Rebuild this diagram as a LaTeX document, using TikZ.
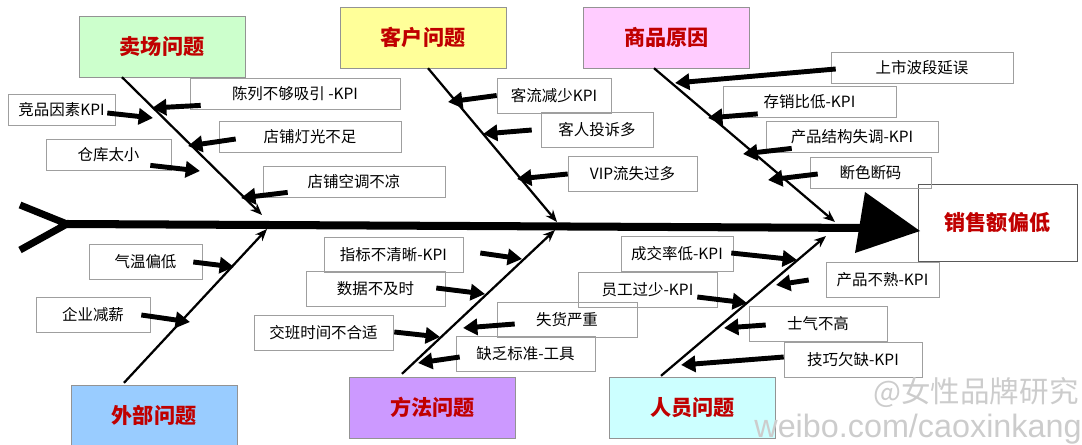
\documentclass[tikz,border=0pt]{standalone}
\usepackage{fontspec}
\setmainfont{Noto Sans CJK SC}
\newfontfamily\urlfont{Liberation Sans}
\usetikzlibrary{arrows.meta}
\definecolor{fishred}{HTML}{C00000}
\definecolor{shopgreen}{HTML}{CCFFCC}
\definecolor{custyellow}{HTML}{FFFF99}
\definecolor{goodspink}{HTML}{FFCCFF}
\definecolor{outerblue}{HTML}{99CCFF}
\definecolor{methodpurple}{HTML}{CC99FF}
\definecolor{staffcyan}{HTML}{CCFFFF}
\tikzset{group/.style={draw=gray!85, minimum width=4.15cm, minimum height=1.52cm, inner sep=0pt, font=\fontsize{15}{18}\selectfont\bfseries, text=fishred}}
\tikzset{cause/.style={draw=gray!75, minimum height=0.78cm, inner sep=0pt, font=\fontsize{11}{13}\selectfont}}
\tikzset{tall/.style={minimum height=0.87cm}}
\tikzset{bone/.style={line width=1.6pt, -{Stealth[length=3mm,width=2.4mm]}}}
\tikzset{push/.style={line width=3.5pt, -{Triangle[length=3.6mm,width=4mm]}}}
\tikzset{spine/.style={line width=5.7pt}}
\tikzset{tail/.style={line width=5pt, line join=miter}}
\tikzset{watermark/.style={text=gray!40, inner sep=0pt}}

\begin{document}
\begin{tikzpicture}[x=0.025cm, y=-0.025cm]
\useasboundingbox (0,0) rectangle (1082,445);

\node[group, fill=shopgreen] (maichang) at (162,46.5) {卖场问题};
\node[group, fill=custyellow] (kehu) at (423,37.5) {客户问题};
\node[group, fill=goodspink] (shangpin) at (666.5,37.5) {商品原因};
\node[group, fill=outerblue] (waibu) at (154,415.5) {外部问题};
\node[group, fill=methodpurple] (fangfa) at (432.5,407.5) {方法问题};
\node[group, fill=staffcyan] (renyuan) at (692.5,407.5) {人员问题};
\node[group, draw=gray!70!black, minimum width=3.98cm, minimum height=1.93cm] (xiaoshou) at (997.5,222.5) {销售额偏低};

\coordinate (tailtop) at (20,205);
\coordinate (tailmid) at (67,224);
\coordinate (tailbot) at (20,250);
\coordinate (spineend) at (870,228);
\coordinate (headtop) at (865,192);
\coordinate (headbot) at (855,253);
\coordinate (headtip) at (920,231);
\draw[spine] (tailmid) -- (spineend);
\draw[tail] (tailtop) -- (tailmid) -- (tailbot);
\fill (headtop) -- (headtip) -- (headbot) -- cycle;

\foreach \n/\anc/\dx/\dy/\ex/\ey in {maichang/south/-40/0/262/215, kehu/south/5/0/557/222,
  shangpin/south/-12.5/0/835/222, waibu/north/-30/-2/267/229,
  fangfa/north/-30.5/-3/555/230, renyuan/north/-31.5/-1/826/236}
{
  \coordinate (e\n) at (\ex,\ey);
  \draw[bone] ([shift={(\dx,\dy)}]\n.\anc) -- (e\n);
}

\node[cause, minimum width=5.25cm] (chenlie) at (295,93.5) {陈列不够吸引 -KPI};
\node[cause, minimum width=2.675cm] (jingpin) at (61.5,110) {竞品因素KPI};
\node[cause, minimum width=4.55cm] (dengguang) at (310,137) {店铺灯光不足};
\node[cause, minimum width=3.125cm] (cangku) at (108.5,154.5) {仓库太小};
\node[cause, minimum width=4.55cm] (kongtiao) at (354,181.5) {店铺空调不凉};

\node[cause, tall, minimum width=2.85cm] (keliu) at (554,95.5) {客流减少KPI};
\node[cause, tall, minimum width=2.8cm] (tousu) at (597,130) {客人投诉多};
\node[cause, tall, minimum width=3.225cm] (vip) at (632.5,174) {VIP流失过多};

\node[cause, minimum width=4.55cm] (shangshi) at (922,67.5) {上市波段延误};
\node[cause, minimum width=4.325cm] (cunxiao) at (809.5,102) {存销比低-KPI};
\node[cause, minimum width=4.3cm] (jiegou) at (852,136.5) {产品结构失调-KPI};
\node[cause, minimum width=3.025cm] (duanse) at (870.5,172.5) {断色断码};

\node[cause, tall, minimum width=2.825cm] (qiwen) at (145.5,262) {气温偏低};
\node[cause, tall, minimum width=2.85cm] (qiye) at (93,315) {企业减薪};

\node[cause, tall, minimum width=3.475cm] (zhibiao) at (393.5,254.5) {指标不清晰-KPI};
\node[cause, tall, minimum width=3.475cm] (shuju) at (375.5,289) {数据不及时};
\node[cause, tall, minimum width=3.475cm] (jiaoban) at (323.5,332.5) {交班时间不合适};
\node[cause, tall, minimum width=3.5cm] (shihuo) at (567,319.5) {失货严重};
\node[cause, tall, minimum width=3.475cm] (quefa) at (525.5,353.5) {缺乏标准-工具};

\node[cause, tall, minimum width=2.8cm] (chengjiao) at (677,254) {成交率低-KPI};
\node[cause, tall, minimum width=3.475cm] (yuangong) at (647.5,289.5) {员工过少-KPI};
\node[cause, tall, minimum width=2.825cm] (chanpin) at (882.5,280) {产品不熟-KPI};
\node[cause, tall, minimum width=3.45cm] (shiqi) at (818,324) {士气不高};
\node[cause, tall, minimum width=3.45cm] (jiqiao) at (853,359.5) {技巧欠缺-KPI};

\foreach \n/\anc/\dx/\dy/\ex/\ey in {chenlie/south west/11/-4/152/108, jingpin/east/-8/3/153/118,
  dengguang/west/17/2/188/146, cangku/south east/-21/-5/200/171,
  kongtiao/south west/25/-5/241/198, keliu/west/0/0/448/102,
  tousu/west/-9/0/483/134, vip/west/0/0/517/179,
  shangshi/west/5/1.5/675/83, cunxiao/south west/35/-4/708/118,
  jiegou/south west/26/-4/743/154, duanse/west/8/1.5/768/180,
  qiwen/east/-9/0/234/267, qiye/east/-9/0/190/322,
  zhibiao/east/17/-1.5/522/259, shuju/east/-9/-1/485/294,
  jiaoban/east/1/-0.5/440/337, shihuo/west/18/4.5/463/328,
  quefa/west/4/3.5/418/363, chengjiao/east/-2/-1/797/260,
  yuangong/east/-20/7.5/747/303, chanpin/west/-17/0/776/285,
  shiqi/west/17/1/724/328, jiqiao/west/0/-2.5/681/365}
{
  \coordinate (t\n) at (\ex,\ey);
  \draw[push] ([shift={(\dx,\dy)}]\n.\anc) -- (t\n);
}

\node[watermark, font=\fontsize{21}{21}\selectfont] (wmname) at (976,393) {@女性品牌研究};
\node[watermark, font=\urlfont\fontsize{23}{23}\selectfont] (wmurl) at (918,429) {weibo.com/caoxinkang};
\end{tikzpicture}
\end{document}
